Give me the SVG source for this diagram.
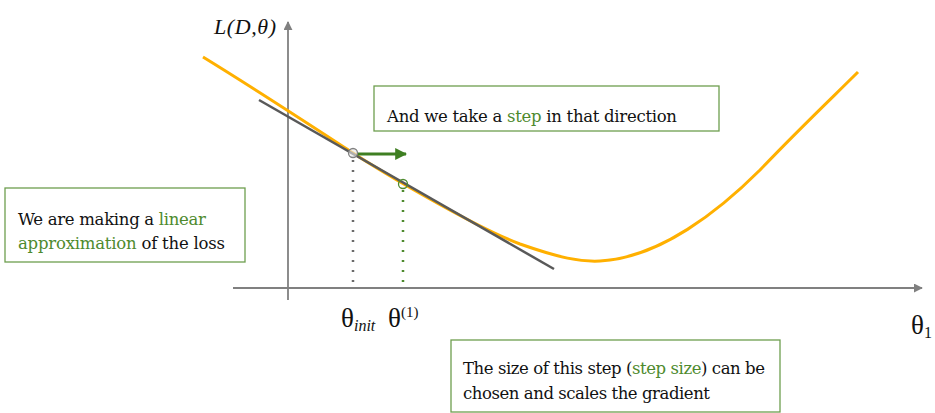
<svg xmlns="http://www.w3.org/2000/svg" width="935" height="413" viewBox="0 0 935 413">
<style>
.box{fill:#fff;stroke:#6e9e4f;stroke-width:1.3}
.t{font-family:"DejaVu Serif","Liberation Serif",serif;font-size:16.5px;fill:#111}
.g{fill:#4e8a2e}
.axis{stroke:#808080;stroke-width:1.8;fill:none}
.math{font-family:"Liberation Serif","DejaVu Serif",serif;fill:#111}
</style>
<defs>
<marker id="ah" viewBox="0 0 10 10" refX="9" refY="5" markerWidth="5" markerHeight="5" orient="auto" markerUnits="strokeWidth"><path d="M0,0 L10,5 L0,10 z" fill="#808080"/></marker>
<marker id="gh" viewBox="0 0 10 10" refX="9" refY="5" markerWidth="4" markerHeight="4" orient="auto" markerUnits="strokeWidth"><path d="M0,0 L10,5 L0,10 z" fill="#3f7f22"/></marker>
</defs>
<g id="axes">
<line class="axis" x1="288" y1="300" x2="288" y2="22" marker-end="url(#ah)"/>
<line class="axis" x1="233" y1="288" x2="922" y2="288" marker-end="url(#ah)"/>
<text class="math" x="214" y="34" font-size="22" font-style="italic" textLength="62" lengthAdjust="spacing">L(D,θ)</text>
<text class="math" x="911" y="334" font-size="27">θ<tspan font-size="16" dy="4">1</tspan></text>
<text class="math" x="341" y="327" font-size="27">θ<tspan font-size="16" font-style="italic" dy="4">init</tspan></text>
<text class="math" x="388" y="327" font-size="27">θ<tspan font-size="15" dy="-10">(1)</tspan></text>
</g>
<g id="curve">
<path d="M203,57 C260,92 330,138 353,153 S470,225 520,244 C560,258 580,262 600,261 C660,258 720,210 760,170 C800,128 835,95 858,72" fill="none" stroke="#ffb000" stroke-width="3"/>
</g>
<g id="connectors">
<line x1="259" y1="100" x2="554" y2="269" stroke="#595959" stroke-width="2.5"/>
<line x1="353" y1="160" x2="353" y2="283" stroke="#6b6b6b" stroke-width="2.5" stroke-dasharray="2,8"/>
<line x1="403" y1="190" x2="403" y2="283" stroke="#4e8a2e" stroke-width="2.5" stroke-dasharray="2,8"/>
<line x1="357" y1="154" x2="406" y2="154" stroke="#3f7f22" stroke-width="3" marker-end="url(#gh)"/>
<circle cx="353" cy="153" r="4.5" fill="#e8e8e8" stroke="#808080" stroke-width="1.3" fill-opacity="0.6"/>
<circle cx="403" cy="184" r="4.5" fill="none" stroke="#4e8a2e" stroke-width="1.3"/>
</g>
<g id="box-step">
<rect class="box" x="374" y="86" width="345" height="45"/>
<text class="t" x="387" y="122" textLength="290" lengthAdjust="spacing">And we take a <tspan class="g">step</tspan> in that direction</text>
</g>
<g id="box-linear">
<rect class="box" x="5" y="188" width="240" height="74"/>
<text class="t" x="18" y="225" textLength="188" lengthAdjust="spacing">We are making a <tspan class="g">linear</tspan></text>
<text class="t" x="18" y="249" textLength="207" lengthAdjust="spacing"><tspan class="g">approximation</tspan> of the loss</text>
</g>
<g id="box-size">
<rect class="box" x="451" y="340" width="329" height="72"/>
<text class="t" x="463" y="374" textLength="302" lengthAdjust="spacing">The size of this step (<tspan class="g">step size</tspan>) can be</text>
<text class="t" x="463" y="399" textLength="247" lengthAdjust="spacing">chosen and scales the gradient</text>
</g>
</svg>
